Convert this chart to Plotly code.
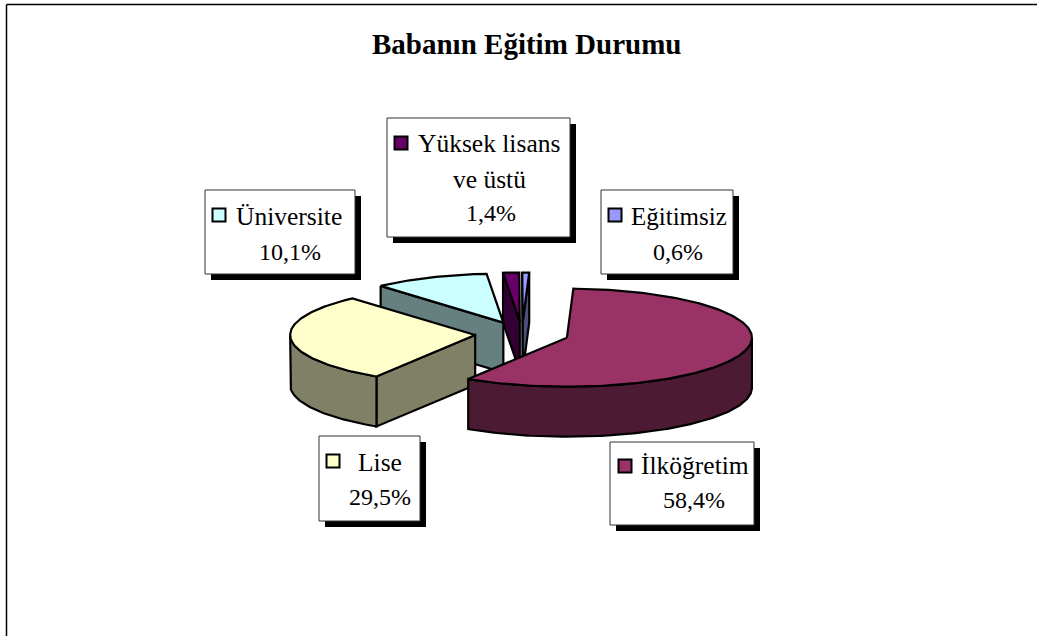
import math
import plotly.graph_objects as go

categories = ["İlköğretim", "Lise", "Üniversite", "Yüksek lisans ve üstü", "Eğitimsiz"]
values = [58.4, 29.5, 10.1, 1.4, 0.6]
top_colors = ["#993366", "#FFFFCC", "#CCFFFF", "#660066", "#9999FF"]
side_colors = ["#4D1A33", "#808066", "#668080", "#330033", "#4D4D80"]
title_text = "Babanın Eğitim Durumu"

W, H = 1037, 636
CX, CY, RX, RY, DEPTH = 522, 334, 185, 49, 50
EXPLODE = 0.254
START = 2.0


def pt(cx, cy, t):
    r = math.radians(t)
    return cx + RX * math.sin(r), cy - RY * math.cos(r)


fig = go.Figure()


def poly(points, color):
    xs = [p[0] for p in points] + [points[0][0]]
    ys = [p[1] for p in points] + [points[0][1]]
    fig.add_trace(go.Scatter(x=xs, y=ys, mode="lines", fill="toself", fillcolor=color,
                             line=dict(color="black", width=2.2), hoverinfo="skip", showlegend=False))


total = sum(values)
slices = []
a = START
for i, v in enumerate(values):
    b = a + v / total * 360
    slices.append((i, a, b))
    a = b

for i, t0, t1 in sorted(slices, key=lambda s: -math.cos(math.radians((s[1] + s[2]) / 2))):
    mid = math.radians((t0 + t1) / 2)
    ax = CX + RX * EXPLODE * math.sin(mid)
    ay = CY - RY * EXPLODE * math.cos(mid)
    n = max(int(t1 - t0), 2)
    arc = [t0 + (t1 - t0) * k / n for k in range(n + 1)]
    # radial side faces seen from the front
    if math.sin(math.radians(t0)) < 0:
        p = pt(ax, ay, t0)
        poly([p, (ax, ay), (ax, ay + DEPTH), (p[0], p[1] + DEPTH)], side_colors[i])
    if math.sin(math.radians(t1)) > 0:
        p = pt(ax, ay, t1)
        poly([p, (ax, ay), (ax, ay + DEPTH), (p[0], p[1] + DEPTH)], side_colors[i])
    # outer rim
    vis0, vis1 = max(t0, 90), min(t1, 270)
    if vis1 > vis0:
        m = max(int(vis1 - vis0), 2)
        rim = [pt(ax, ay, vis0 + (vis1 - vis0) * k / m) for k in range(m + 1)]
        poly(rim + [(x, y + DEPTH) for x, y in reversed(rim)], side_colors[i])
    # top surface
    poly([(ax, ay)] + [pt(ax, ay, t) for t in arc], top_colors[i])

shapes = [
    dict(type="line", x0=6.5, x1=W, y0=4.5, y1=4.5, line=dict(color="black", width=1.5)),
    dict(type="line", x0=6.5, x1=6.5, y0=4.5, y1=H, line=dict(color="black", width=1.5)),
]
annotations = [dict(x=526, y=44, text=f"<b>{title_text}</b>", showarrow=False, xanchor="center",
                    yanchor="middle", font=dict(family="Liberation Serif", size=29, color="black"))]


def pct(v):
    return f"{v:.1f}".replace(".", ",") + "%"


def note(x, y, text, anchor="center", size=25.5):
    annotations.append(dict(x=x, y=y, text=text, showarrow=False, xanchor=anchor, yanchor="middle",
                            font=dict(family="Liberation Serif", size=size, color="black")))


boxes = {
    0: (610, 442, 754, 525), 1: (319, 436, 420, 521), 2: (205, 190, 355, 274),
    3: (387, 118, 570, 237), 4: (601, 190, 733, 274),
}
keys = {0: (625, 466), 1: (333, 461), 2: (219, 215), 3: (401, 143), 4: (615, 215)}
for i, (x0, y0, x1, y1) in boxes.items():
    shapes.append(dict(type="rect", x0=x0 + 6, y0=y0 + 6, x1=x1 + 6, y1=y1 + 6, layer="below",
                       fillcolor="black", line=dict(width=0)))
    shapes.append(dict(type="rect", x0=x0, y0=y0, x1=x1, y1=y1, layer="below",
                       fillcolor="white", line=dict(color="#333333", width=1)))
    fig.add_trace(go.Scatter(x=[keys[i][0]], y=[keys[i][1]], mode="markers", hoverinfo="skip", showlegend=False,
                             marker=dict(symbol="square", size=13, color=top_colors[i],
                                         line=dict(color="black", width=2))))

note(639, 465, categories[0], "left")
note(694, 500, pct(values[0]), size=24)
note(380, 462, categories[1])
note(380, 497, pct(values[1]), size=24)
note(234, 216, categories[2], "left")
note(290, 252, pct(values[2]), size=24)
note(416, 143, "Yüksek lisans", "left")
note(489, 179, "ve üstü")
note(491, 213, pct(values[3]), size=24)
note(629, 216, categories[4], "left", size=25)
note(678, 252, pct(values[4]), size=24)

fig.update_layout(
    width=W, height=H, margin=dict(l=0, r=0, t=0, b=0), autosize=False,
    paper_bgcolor="white", plot_bgcolor="white", showlegend=False,
    xaxis=dict(range=[0, W], visible=False, fixedrange=True),
    yaxis=dict(range=[H, 0], visible=False, fixedrange=True),
    shapes=shapes, annotations=annotations,
)
fig.write_html("out.html", config=dict(displayModeBar=False),
               post_script="document.body.style.margin='0';document.body.style.overflow='hidden';")
